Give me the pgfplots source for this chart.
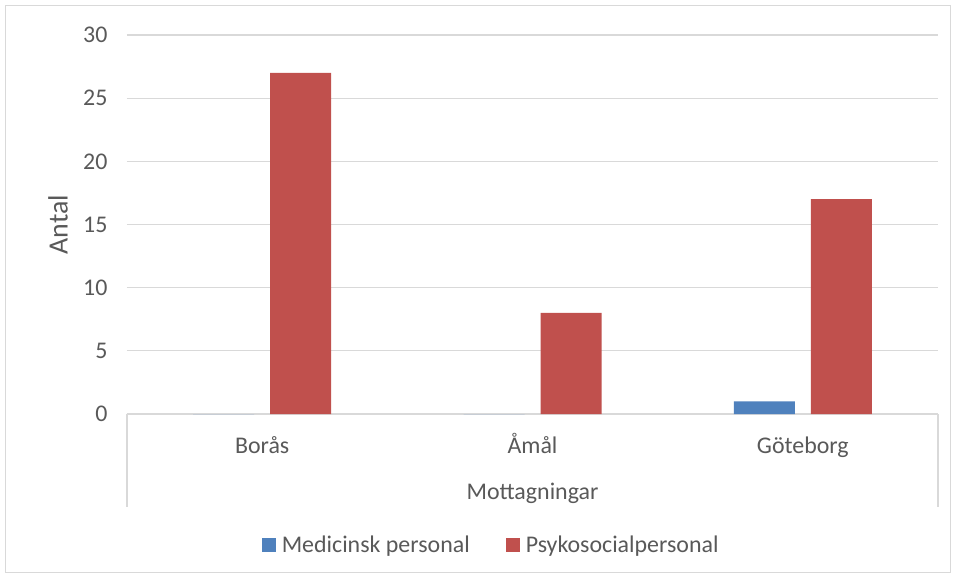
\documentclass[border=0pt]{standalone}
\usepackage{fontspec}
\setmainfont{Carlito}
\usepackage{pgfplots}
\pgfplotsset{compat=1.18}
\definecolor{medblue}{HTML}{4F81BD}
\definecolor{psyred}{HTML}{C0504D}
\definecolor{gridgray}{HTML}{D9D9D9}
\definecolor{textgray}{HTML}{595959}

\begin{document}
\begin{tikzpicture}
% page size and outer frame
\path[fill=white] (-127bp,-164bp) rectangle (828bp,414bp);
\draw[gridgray, line width=1bp] (-121bp,-158bp) rectangle (823bp,408bp);
\begin{axis}[
    at={(0,0)}, anchor=south west,
    scale only axis,
    width=811bp, height=379bp,
    ybar=16bp,
    bar width=61bp,
    xmin=-0.5, xmax=2.5,
    ymin=0, ymax=30,
    ytick={0,5,...,30},
    xtick=data,
    xticklabels={Borås, Åmål, Göteborg},
    major tick length=0pt,
    axis x line*=bottom,
    axis y line*=left,
    x axis line style={gridgray, line width=1.2bp, -},
    y axis line style={draw=none},
    ymajorgrids,
    grid style={gridgray, line width=1.2bp},
    /pgf/number format/assume math mode=true,
    tick label style={font=\fontsize{24}{28}\selectfont, text=textgray},
    yticklabel style={xshift=-16bp},
    xticklabel style={anchor=base, yshift=-39bp},
    xlabel={Mottagningar},
    xlabel style={font=\fontsize{24}{28}\selectfont, text=textgray,
        at={(axis description cs:0.5,-0.2269)}, anchor=base},
    ylabel={Antal},
    ylabel style={font=\fontsize{28}{32}\selectfont, text=textgray,
        at={(axis description cs:-0.0851,0.5)}, anchor=center},
    legend style={at={(axis description cs:0.449,-0.3456)}, anchor=center,
        draw=none, fill=none, legend columns=2,
        font=\fontsize{24}{28}\selectfont, text=textgray,
        /tikz/every odd column/.append style={column sep=4bp},
        /tikz/every even column/.append style={column sep=34bp}},
    legend image code/.code={\fill[#1] (0bp,-7bp) rectangle (14bp,7bp);},
    clip=false,
]
\addplot[fill=medblue, draw=none] coordinates {(0,0) (1,0) (2,1)};
\addlegendentry{Medicinsk personal}
\addplot[fill=psyred, draw=none] coordinates {(0,27) (1,8) (2,17)};
\addlegendentry{Psykosocialpersonal}
\end{axis}
% category axis box sides
\draw[gridgray, line width=1.2bp] (0bp,0bp) -- (0bp,-93bp);
\draw[gridgray, line width=1.2bp] (811bp,0bp) -- (811bp,-93bp);
\end{tikzpicture}
\end{document}
